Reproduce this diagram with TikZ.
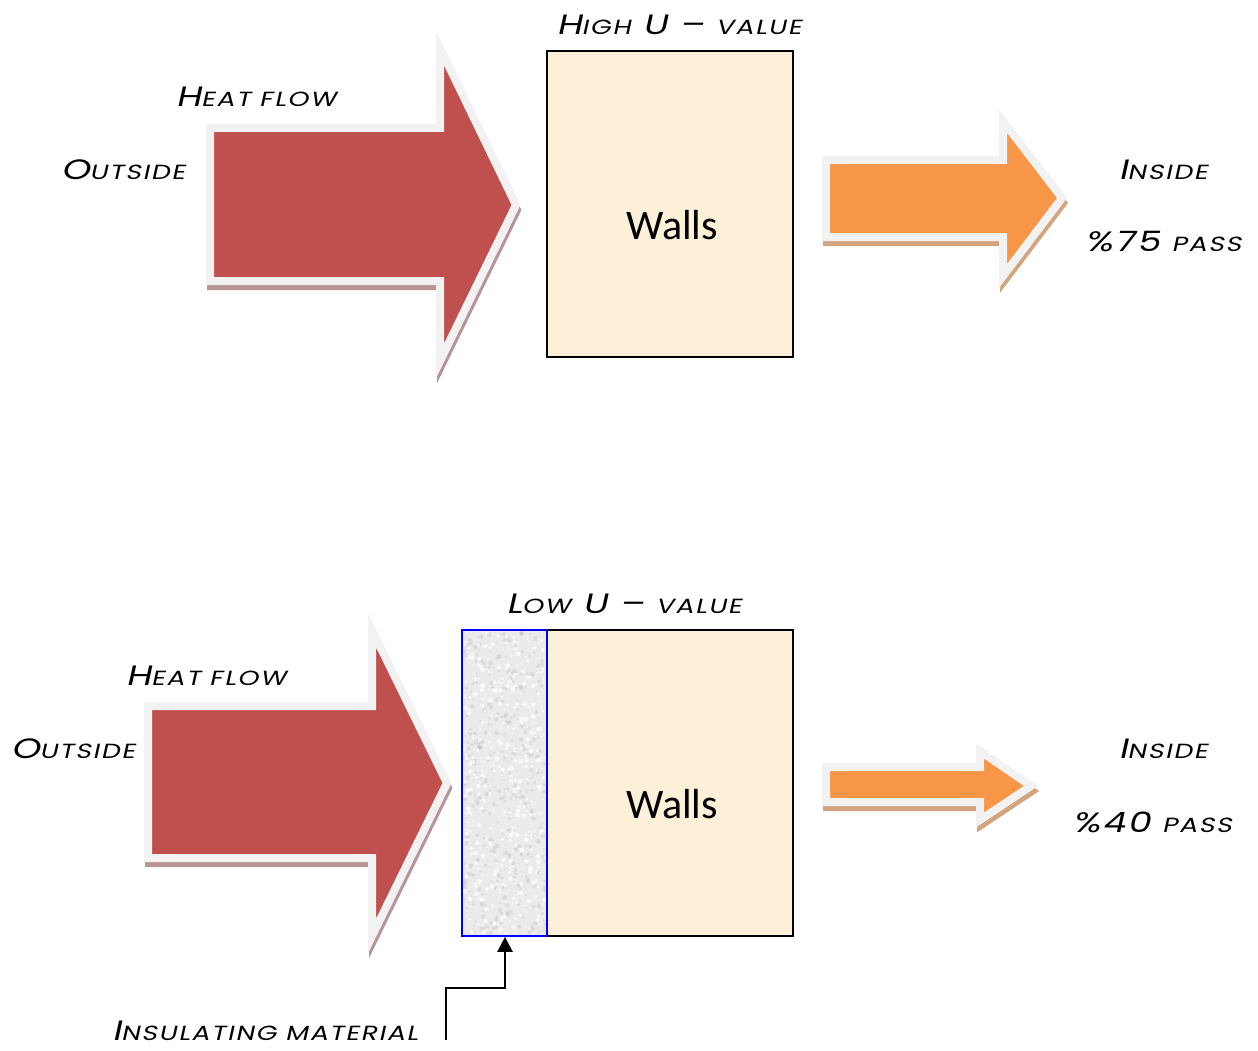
\documentclass[tikz,border=0pt]{standalone}
\usepackage{fontspec}
\setmainfont{Poppins}
\newfontfamily\labfont[FakeSlant=0.22, FakeStretch=1.3, LetterSpace=8]{Poppins}
\newfontfamily\wallfont{Carlito}
\usetikzlibrary{arrows.meta}
\definecolor{heatred}{HTML}{C0504D}
\definecolor{heatorange}{HTML}{F79646}
\definecolor{rimgray}{HTML}{F2F2F2}
\definecolor{redshade}{HTML}{B79595}
\definecolor{orangeshade}{HTML}{D3A47E}
\definecolor{wallfill}{HTML}{FCF0D9}
\definecolor{insfill}{HTML}{EBEBEB}
\newcommand\SCp[1]{{\fontsize{20.5}{24}\selectfont #1}}
\tikzset{
  lab/.style={font=\labfont\fontsize{28}{32}\selectfont, inner sep=0pt, anchor=center},
  wallbox/.style={draw=black, line width=2pt, fill=wallfill, minimum width=246pt,
    minimum height=306pt, inner sep=0pt},
  walltext/.style={font=\wallfont\fontsize{42}{46}\selectfont, inner sep=0pt},
  insbox/.style={draw=blue, line width=1.8pt, minimum width=85pt, minimum height=306pt, inner sep=0pt},
  flowarrow/.style={draw=rimgray, line width=8pt, line join=miter, miter limit=12},
  flowshadow/.style={line width=8pt, line join=miter, miter limit=12},
}
% block arrow: tail x, body top y, body bottom y, head x, head top y, tip x, tip y, head bottom y
\newcommand\blockarrow[9]{%
  \path[#1] (#2,#3) -- (#5,#3) -- (#5,#6) -- (#7,#8) -- (#5,#9) -- (#5,#4) -- (#2,#4) -- cycle;}
\begin{document}
\begin{tikzpicture}[x=1pt,y=-1pt]
\useasboundingbox (0,0) rectangle (1258,1051);

% ---------- upper case: wall without insulation ----------
\begin{scope}[shift={(1,5)}]
\blockarrow{flowshadow,draw=redshade,fill=redshade}{210}{128}{281}{440}{48}{516}{205}{361}
\blockarrow{flowshadow,draw=orangeshade,fill=orangeshade}{826}{160}{237}{1003}{121}{1062}{198}{276}
\end{scope}
\blockarrow{flowarrow,fill=heatred}{210}{128}{281}{440}{48}{516}{205}{361}
\blockarrow{flowarrow,fill=heatorange}{826}{160}{237}{1003}{121}{1062}{198}{276}

\node[wallbox] (wall1) at (670,204) {};
\node[walltext] (wall1t) at (672,225) {Walls};

\node[lab] (uhigh) at (679,25) {H\SCp{IGH} U – \SCp{VALUE}};
\node[lab] (heat1) at (256,97) {H\SCp{EAT FLOW}};
\node[lab] (out1) at (123,170) {O\SCp{UTSIDE}};
\node[lab] (in1) at (1163,170) {I\SCp{NSIDE}};
\node[lab] (pass1) at (1163,242) {\%75 \SCp{PASS}};

% ---------- lower case: wall with insulating layer ----------
\begin{scope}[shift={(1,5)}]
\blockarrow{flowshadow,draw=redshade,fill=redshade}{148}{706}{858}{372}{630}{447}{783}{936}
\blockarrow{flowshadow,draw=orangeshade,fill=orangeshade}{826}{767}{802}{980}{751}{1031}{786}{820}
\end{scope}
\blockarrow{flowarrow,fill=heatred}{148}{706}{858}{372}{630}{447}{783}{936}
\blockarrow{flowarrow,fill=heatorange}{826}{767}{802}{980}{751}{1031}{786}{820}

\node[wallbox] (wall2) at (670,783) {};
\node[walltext] (wall2t) at (672,804) {Walls};
\fill[insfill] (462,630) rectangle (547,936);
% speckled texture of the insulation
\pgfmathsetseed{42}
\foreach \i in {1,...,900} {
  \pgfmathsetmacro\px{464+81*rnd}
  \pgfmathsetmacro\py{632+302*rnd}
  \pgfmathsetmacro\pr{0.8+1.6*rnd}
  \pgfmathsetmacro\pc{rnd}
  \ifdim\pc pt<0.5pt
    \fill[gray!50, opacity=0.35] (\px,\py) circle[radius=\pr];
  \else
    \fill[white, opacity=0.7] (\px,\py) circle[radius=\pr];
  \fi
}
\node[insbox] (ins) at (504.5,783) {};

\node[lab] (ulow) at (624,604) {L\SCp{OW} U – \SCp{VALUE}};
\node[lab] (heat2) at (206,676) {H\SCp{EAT FLOW}};
\node[lab] (out2) at (73,749) {O\SCp{UTSIDE}};
\node[lab] (in2) at (1163,749) {I\SCp{NSIDE}};
\node[lab] (pass2) at (1152,822) {\%40 \SCp{PASS}};
\node[lab] (insl) at (265,1031) {I\SCp{NSULATING MATERIAL}};

% pointer to the insulating layer
\coordinate (pstart) at (446,1040);
\coordinate (pbend) at (505,988);
\draw[line width=2.6pt, -{Triangle[length=15pt,width=15pt]}]
  (pstart) |- (pbend) -- (pbend |- ins.south);
\end{tikzpicture}
\end{document}
